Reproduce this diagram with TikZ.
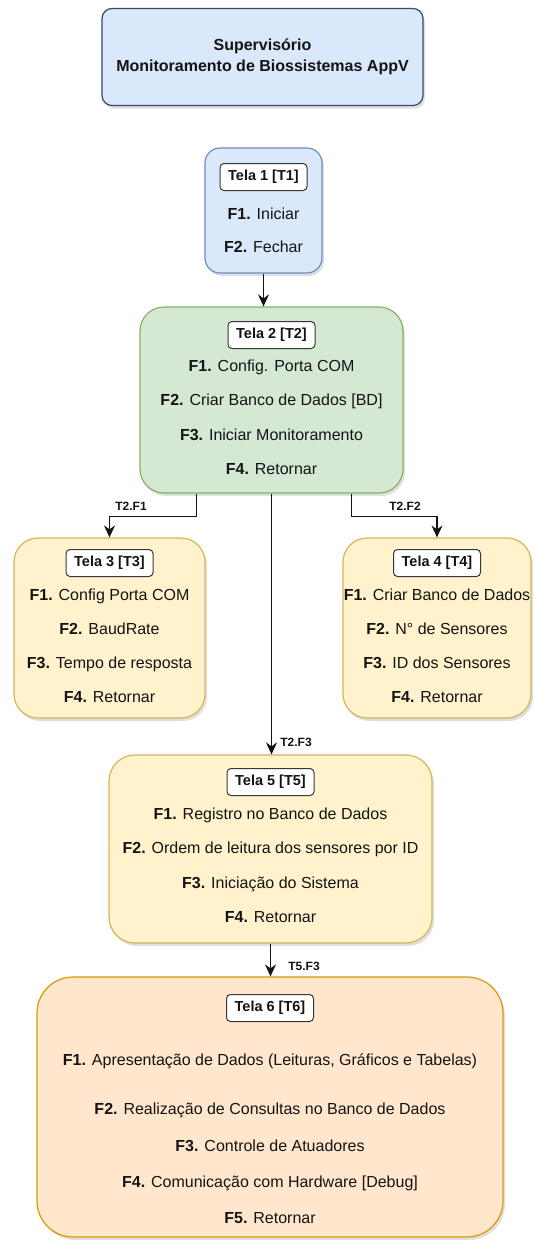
\documentclass[tikz,border=0pt]{standalone}
\usepackage{fontspec}
\setmainfont{Liberation Sans}
\usetikzlibrary{arrows.meta,positioning,shadows}
\definecolor{azulF}{HTML}{DAE8FC}
\definecolor{azulD}{HTML}{6C8EBF}
\definecolor{tituloD}{RGB}{58,72,110}
\definecolor{verdeF}{HTML}{D5E8D4}
\definecolor{verdeD}{HTML}{82B366}
\definecolor{amareloF}{HTML}{FFF2CC}
\definecolor{amareloD}{HTML}{D6B656}
\definecolor{laranjaF}{HTML}{FFE6CC}
\definecolor{laranjaD}{HTML}{D79B00}
\definecolor{ink}{RGB}{20,20,20}
\tikzset{
  >={Stealth[length=12pt,width=11pt,inset=4pt]},
  tela/.style={draw=#1D,fill=#1F,line width=1.2pt,inner sep=0pt,
    drop shadow={opacity=0.25,shadow xshift=2pt,shadow yshift=-3pt}},
  tela/.default=amarelo,
  rotulo/.style={draw=ink!85,fill=white,rounded corners=4pt,line width=1pt,
    minimum width=87pt,minimum height=27pt,inner sep=0pt,
    font=\fontsize{14.5}{16}\selectfont\bfseries,text=ink},
  item/.style={inner sep=0pt,text height=11pt,text depth=3pt,
    font=\fontsize{16}{18}\selectfont,text=ink},
  flow/.style={->,line width=1.1pt,draw=ink},
  tag/.style={inner sep=0pt,font=\fontsize{12}{14}\selectfont\bfseries,text=ink},
}
\begin{document}
\begin{tikzpicture}[x=1pt,y=-1pt]
  \useasboundingbox (0,0) rectangle (536,1240);
  % titulo
  \node[tela=azul,draw=tituloD,rounded corners=10pt,minimum width=321pt,minimum height=97pt,
    align=center,font=\fontsize{16}{21}\selectfont\bfseries,text=ink] (titulo) at (262.5,57)
    {Supervisório\\Monitoramento de Biossistemas AppV};
  % telas
  \node[tela=azul,rounded corners=15pt,minimum width=117pt,minimum height=125pt] (tela1) at (263.5,210.5) {};
  \node[tela=verde,rounded corners=24pt,minimum width=263pt,minimum height=186pt] (tela2) at (271.5,400) {};
  \node[tela,rounded corners=24pt,minimum width=191pt,minimum height=180pt] (tela3) at (109.5,628) {};
  \node[tela,rounded corners=24pt,minimum width=188pt,minimum height=180pt] (tela4) at (437,628) {};
  \node[tela,rounded corners=26pt,minimum width=323pt,minimum height=188pt] (tela5) at (270.5,849) {};
  \node[tela=laranja,rounded corners=36pt,minimum width=466pt,minimum height=260pt] (tela6) at (270,1107) {};
  % T1
  \node[rotulo] (r1) at (263.5,177) {Tela 1 [T1]};
  \node[item] (t1f1) at (263.5,215) {\textbf{F1.} Iniciar};
  \node[item] (t1f2) at (263.5,248) {\textbf{F2.} Fechar};
  % T2
  \node[rotulo] (r2) at (271.5,335) {Tela 2 [T2]};
  \node[item] (t2f1) at (271.5,367) {\textbf{F1.} Config. Porta COM};
  \node[item] (t2f2) at (271.5,401) {\textbf{F2.} Criar Banco de Dados [BD]};
  \node[item] (t2f3) at (271.5,436) {\textbf{F3.} Iniciar Monitoramento};
  \node[item] (t2f4) at (271.5,470) {\textbf{F4.} Retornar};
  % T3
  \node[rotulo] (r3) at (109.5,563) {Tela 3 [T3]};
  \node[item] (t3f1) at (109.5,596) {\textbf{F1.} Config Porta COM};
  \node[item] (t3f2) at (109.5,630) {\textbf{F2.} BaudRate};
  \node[item] (t3f3) at (109.5,664) {\textbf{F3.} Tempo de resposta};
  \node[item] (t3f4) at (109.5,698) {\textbf{F4.} Retornar};
  % T4
  \node[rotulo] (r4) at (437,563) {Tela 4 [T4]};
  \node[item] (t4f1) at (437,596) {\textbf{F1.} Criar Banco de Dados};
  \node[item] (t4f2) at (437,630) {\textbf{F2.} N° de Sensores};
  \node[item] (t4f3) at (437,664) {\textbf{F3.} ID dos Sensores};
  \node[item] (t4f4) at (437,698) {\textbf{F4.} Retornar};
  % T5
  \node[rotulo] (r5) at (270.5,782) {Tela 5 [T5]};
  \node[item] (t5f1) at (270.5,815) {\textbf{F1.} Registro no Banco de Dados};
  \node[item] (t5f2) at (270.5,849) {\textbf{F2.} Ordem de leitura dos sensores por ID};
  \node[item] (t5f3) at (270.5,884) {\textbf{F3.} Iniciação do Sistema};
  \node[item] (t5f4) at (270.5,918) {\textbf{F4.} Retornar};
  % T6
  \node[rotulo] (r6) at (270,1008) {Tela 6 [T6]};
  \node[item] (t6f1) at (270,1061) {\textbf{F1.} Apresentação de Dados (Leituras, Gráficos e Tabelas)};
  \node[item] (t6f2) at (270,1110) {\textbf{F2.} Realização de Consultas no Banco de Dados};
  \node[item] (t6f3) at (270,1147) {\textbf{F3.} Controle de Atuadores};
  \node[item] (t6f4) at (270,1183) {\textbf{F4.} Comunicação com Hardware [Debug]};
  \node[item] (t6f5) at (270,1219) {\textbf{F5.} Retornar};
  % ligacoes
  \draw[flow] (tela1.south) -- (tela1.south |- tela2.north);
  \draw[flow] ([xshift=-75pt]tela2.south) -- ++(0,23) -| (tela3.north);
  \draw[flow] ([xshift=80pt]tela2.south) -- ++(0,23) -| (tela4.north);
  \draw[flow] (tela2.south) -- (tela2.south |- tela5.north);
  \draw[flow] (tela5.south) -- (tela5.south |- tela6.north);
  \node[tag] (e1) at (131,506) {T2.F1};
  \node[tag] (e2) at (405,506) {T2.F2};
  \node[tag] (e3) at (296,742) {T2.F3};
  \node[tag] (e4) at (304,966) {T5.F3};
\end{tikzpicture}
\end{document}
